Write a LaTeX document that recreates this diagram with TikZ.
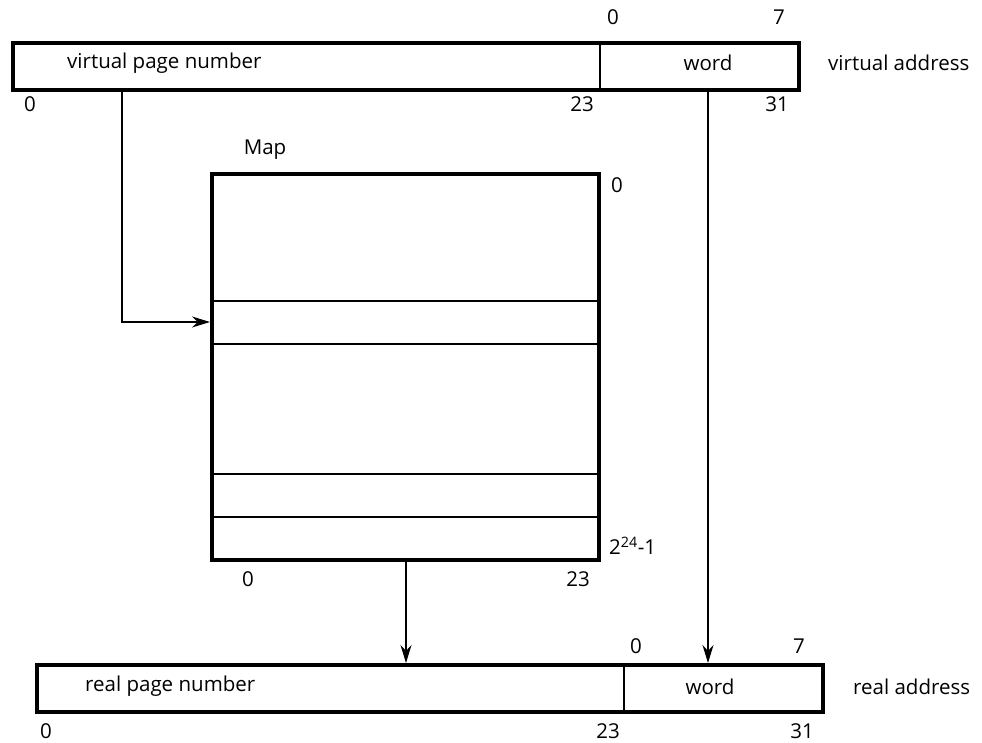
\documentclass[tikz,border=0pt]{standalone}
\usepackage{fontspec}
\setmainfont{Open Sans}
\usetikzlibrary{arrows.meta}
\begin{document}
\begin{tikzpicture}[x=1pt,y=-1pt,
  reg/.style={draw, line width=4pt, inner sep=0pt, anchor=north west},
  divider/.style={line width=1.8pt},
  row/.style={line width=2.4pt},
  lbl/.style={font=\fontsize{20.5}{24}\selectfont, inner sep=0pt},
  conn/.style={line width=1.5pt, -{Stealth[length=18pt,width=11pt]}}]
\useasboundingbox (0,0) rectangle (982,743);

% virtual address register
\node[reg, minimum width=786pt, minimum height=47pt] (va) at (11,41) {};
\draw[divider] (va.north -| 600,0) -- (va.south -| 600,0);
\node[lbl, anchor=west] (vpn) at (67,63) {virtual page number};
\node[lbl] (vword) at (708,63) {word};
\node[lbl, anchor=west] (vaddr) at (828,63) {virtual address};
\node[lbl] (v0a) at (613,17) {0};
\node[lbl] (v7) at (779,17) {7};
\node[lbl] (v0b) at (30,104) {0};
\node[lbl] (v23) at (582,104) {23};
\node[lbl] (v31) at (777,104) {31};

% map
\node[lbl] (maplbl) at (265,150) {Map};
\node[reg, minimum width=387pt, minimum height=386pt] (map) at (210,172) {};
\draw[row] (map.west |- 0,301) -- (map.east |- 0,301);
\draw[row] (map.west |- 0,344) -- (map.east |- 0,344);
\draw[row] (map.west |- 0,474) -- (map.east |- 0,474);
\draw[row] (map.west |- 0,517) -- (map.east |- 0,517);
\node[lbl] (m0) at (617,185) {0};
\node[lbl, anchor=west] (mtop) at (609,546) {2\textsuperscript{24}-1};
\node[lbl] (mb0) at (248,579) {0};
\node[lbl] (mb23) at (578,579) {23};

% real address register
\node[reg, minimum width=786pt, minimum height=47pt] (ra) at (35,663) {};
\draw[divider] (ra.north -| 624,0) -- (ra.south -| 624,0);
\node[lbl, anchor=west] (rpn) at (85,686) {real page number};
\node[lbl] (rword) at (710,687) {word};
\node[lbl, anchor=west] (raddr) at (853,687) {real address};
\node[lbl] (r0a) at (636,646) {0};
\node[lbl] (r7) at (799,646) {7};
\node[lbl] (r0b) at (46,731) {0};
\node[lbl] (r23) at (608,731) {23};
\node[lbl] (r31) at (802,731) {31};

% connectors
\coordinate (entry) at (map.west |- 0,322);
\draw[conn] (va.south -| 122,0) |- (entry);
\draw[conn] (map.south -| 406,0) -- (ra.north -| 406,0);
\draw[conn] (va.south -| 708,0) -- (ra.north -| 708,0);
\end{tikzpicture}
\end{document}
